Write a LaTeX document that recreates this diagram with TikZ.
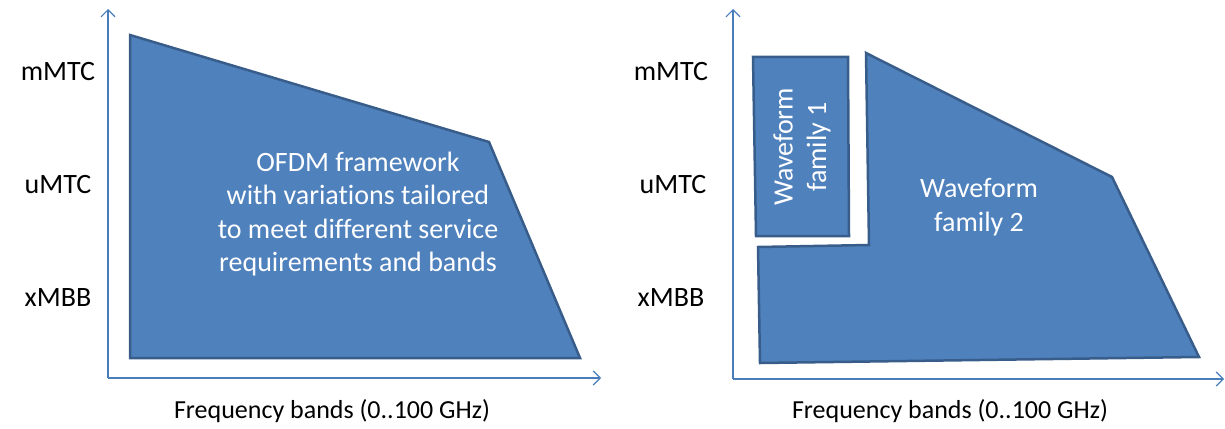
\documentclass[tikz,border=0pt]{standalone}
\usepackage{fontspec}
\setmainfont{Carlito}[Ligatures=NoCommon,RawFeature={-liga;-dlig;-clig}]
\usetikzlibrary{arrows.meta}
\definecolor{fillblue}{HTML}{4F81BD}
\definecolor{edgeblue}{HTML}{385D8A}
\definecolor{axisblue}{HTML}{4A7EBB}
\tikzset{
  region/.style={fill=fillblue, draw=edgeblue, line width=2.5pt, line join=miter},
  axis/.style={draw=axisblue, line width=1.3pt, -{Straight Barb[length=7pt,width=14pt,line width=1.2pt]}},
  lab/.style={font=\fontsize{28}{33.5}\selectfont, text=black, inner sep=0pt},
  xlab/.style={font=\fontsize{26}{31}\selectfont, text=black, inner sep=0pt},
  intext/.style={font=\fontsize{28}{33.5}\selectfont, text=white, align=center, inner sep=0pt},
}
\begin{document}
\begin{tikzpicture}[x=1pt,y=-1pt]
\useasboundingbox (0,0) rectangle (1225,428);
% ---------- left panel ----------
\coordinate (lo) at (108,378);
\coordinate (ly) at (108,9);
\coordinate (lx) at (601,378);
\draw[axis] (lo) -- (ly);
\draw[axis] (lo) -- (lx);
\draw[region] (130,35) -- (489,142) -- (580,358) -- (130,358) -- cycle;
\node[intext] (ofdm) at (358,214) {OFDM framework\\with variations tailored\\to meet different service\\requirements and bands};
\node[lab] (lm) at (58,72) {mMTC};
\node[lab] (lu) at (58,185) {uMTC};
\node[lab] (lxm) at (58,298) {xMBB};
\node[xlab] (lf) at (332,411) {Frequency bands (0..100 GHz)};
% ---------- right panel ----------
\coordinate (ro) at (733,379);
\coordinate (ry) at (733,9);
\coordinate (rx) at (1224,379);
\draw[axis] (ro) -- (ry);
\draw[axis] (ro) -- (rx);
\draw[region] (753,57) -- (848,57) -- (849,236) -- (756,236) -- cycle;
\draw[region] (866,53) -- (1112,177) -- (1199,357) -- (760,363) -- (758,247) -- (869,245) -- cycle;
\node[intext, rotate=90] (wf1) at (802,147) {Waveform\\family 1};
\node[intext] (wf2) at (979,207) {Waveform\\family 2};
\node[lab] (rm) at (671,72) {mMTC};
\node[lab] (ru) at (673,185) {uMTC};
\node[lab] (rxm) at (671,298) {xMBB};
\node[xlab] (rf) at (950,411) {Frequency bands (0..100 GHz)};
\end{tikzpicture}
\end{document}
